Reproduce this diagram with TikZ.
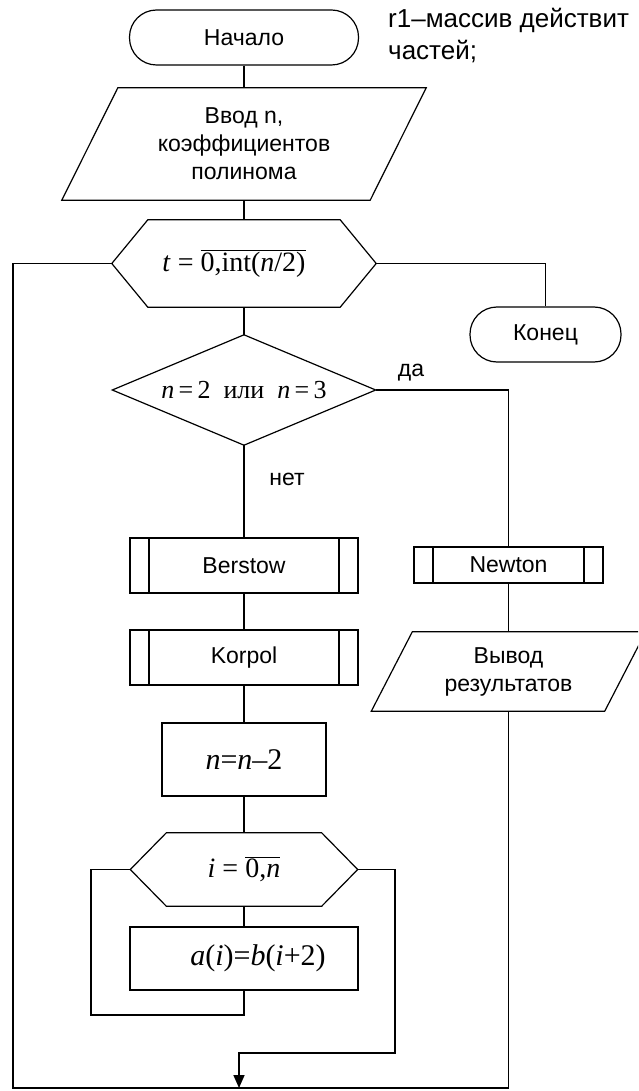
\documentclass[tikz,border=0pt]{standalone}
\usepackage[no-math]{fontspec}
\setmainfont{Liberation Sans}
\newfontfamily\serifcyr{Liberation Serif}
\usetikzlibrary{arrows.meta}

\begin{document}
\begin{tikzpicture}[x=1pt, y=-1pt,
  every node/.style={font=\fontsize{23}{28}\selectfont, inner sep=0pt},
  conn/.style={line width=1.6pt},
  outline/.style={draw, line width=1.2pt},
  terminal/.style={outline, rounded corners=27pt, minimum width=#1, minimum height=55pt},
  block/.style={outline, minimum width=228pt},
  subr/.style={outline, minimum width=#1, path picture={
      \draw[line width=1.2pt]
        ([xshift=19pt]path picture bounding box.north west) -- ([xshift=19pt]path picture bounding box.south west)
        ([xshift=-19pt]path picture bounding box.north east) -- ([xshift=-19pt]path picture bounding box.south east);}},
  formula/.style={font=\serifcyr\fontsize{#1}{#1}\selectfont},
]
\clip (0,0) rectangle (638,1091);

% --- start, input, outer loop over t
\node[terminal=229pt] (start) at (244,37.5) {Начало};
\node[anchor=west, align=left, font=\fontsize{26}{32}\selectfont] (note) at (388,36) {r1–массив действит\\частей;};

\node[minimum width=308pt, minimum height=112pt, align=center] (vvod) at (244,144) {Ввод n,\\коэффициентов\\полинома};
\draw[outline] ([xshift=28pt]vvod.north west) -- ([xshift=28pt]vvod.north east)
  -- ([xshift=-28pt]vvod.south east) -- ([xshift=-28pt]vvod.south west) -- cycle;

\node[minimum width=264pt, minimum height=87pt, formula=28pt] (tloop) at (244,263.5)
  {\textit{t} = $\overline{\hbox{0,int(\textit{n}/2)}}$\hspace*{20pt}};
\draw[outline] (tloop.west) -- ([xshift=36pt]tloop.north west) -- ([xshift=-36pt]tloop.north east)
  -- (tloop.east) -- ([xshift=-36pt]tloop.south east) -- ([xshift=36pt]tloop.south west) -- cycle;

\node[terminal=151pt] (finish) at (545.5,334.5) {Конец};

% --- branch on n
\node[minimum width=263pt, minimum height=110pt, formula=26pt] (cond) at (244,390)
  {\textit{n}\,=\,2\ \ или\ \ \textit{n}\,=\,3};
\draw[outline] (cond.west) -- (cond.north) -- (cond.east) -- (cond.south) -- cycle;

\node[subr=228pt, minimum height=55pt] (berstow) at (244,565.5) {Berstow};
\node[subr=189pt, minimum height=36pt] (newton) at (508.5,565) {Newton};
\node[subr=228pt, minimum height=55pt] (korpol) at (244,657.5) {Korpol};

\node[minimum width=233pt, minimum height=79pt, align=center] (vyvod) at (508.5,671.5) {Вывод\\результатов};
\draw[outline] ([xshift=20.5pt]vyvod.north west) -- ([xshift=20.5pt]vyvod.north east)
  -- ([xshift=-20.5pt]vyvod.south east) -- ([xshift=-20.5pt]vyvod.south west) -- cycle;

\node[block, minimum width=164pt, minimum height=73pt, formula=30pt] (nminus) at (244,759.5) {\textit{n}=\textit{n}–2};

% --- inner loop over i
\node[minimum width=227pt, minimum height=73pt, formula=28pt] (iloop) at (244,869.5)
  {\textit{i} = $\overline{\hbox{0,\textit{n}}}$};
\draw[outline] (iloop.west) -- ([xshift=36pt]iloop.north west) -- ([xshift=-36pt]iloop.north east)
  -- (iloop.east) -- ([xshift=-36pt]iloop.south east) -- ([xshift=36pt]iloop.south west) -- cycle;

\node[block, minimum height=63pt, formula=30pt] (assign) at (244,958.5)
  {\hspace*{28pt}\textit{a}(\textit{i})=\textit{b}(\textit{i}+2)};

\node (da) at (411,373) {да};
\node (net) at (287,479) {нет};

% --- connectors
\draw[conn] (start.south) -- (vvod.north);
\draw[conn] (vvod.south) -- (tloop.north);
\draw[conn] (tloop.south) -- (cond.north);
\draw[conn] (tloop.east) -| (finish.north);
\draw[conn] (cond.east) -| (newton.north);
\draw[conn] (cond.south) -- (berstow.north);
\draw[conn] (berstow.south) -- (korpol.north);
\draw[conn] (newton.south) -- (vyvod.north);
\draw[conn] (korpol.south) -- (nminus.north);
\draw[conn] (nminus.south) -- (iloop.north);
\draw[conn] (iloop.south) -- (assign.north);

\coordinate (iback) at (91,1015);
\coordinate (iexit) at (395,1053);
\coordinate (merge) at (239,1088);
\coordinate (tback) at (13,1088);

\draw[conn] (assign.south) |- (iback) |- (iloop.west);
\draw[conn, -{Triangle[length=13pt,width=11pt]}] (iloop.east) -| (iexit) -| (merge);
\draw[conn] (vyvod.south) |- (merge) -- (tback) |- (tloop.west);
\end{tikzpicture}
\end{document}
